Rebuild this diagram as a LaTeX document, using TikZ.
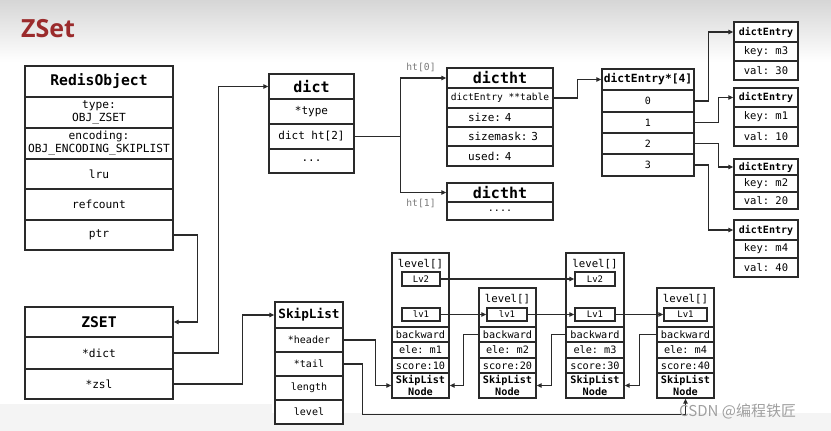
\documentclass[tikz,border=0pt]{standalone}
\usepackage{fontspec}
\setmonofont{DejaVu Sans Mono}
\newfontfamily\titlefont{Open Sans}
\newfontfamily\cjkfont{Noto Sans CJK SC}
\usetikzlibrary{arrows.meta,calc}
\definecolor{linec}{HTML}{2A2A2A}
\definecolor{titlered}{HTML}{9B2B2C}
\definecolor{labgray}{HTML}{7A7A7A}
\definecolor{topgray}{HTML}{D6D6D6}
\definecolor{footgray}{HTML}{F4F4F4}
\newcommand\mfn[1]{\ttfamily\mdseries\fontsize{#1}{13}\selectfont}
\newcommand\mfb[1]{\ttfamily\bfseries\fontsize{#1}{12}\selectfont}
\newcommand\cellbox[7][]{\node[cellbase,minimum width={(#5-#3)*1pt},minimum height={(#6-#4)*1pt},#1] (#2) at ({(#3+#5)/2},{(#4+#6)/2}) {#7};}
\newcommand\skipnode[6]{%
  \cellbox{#1lvl}{#2}{#4}{#3}{327}{}
  \node[font=\mfn{10.7}, inner sep=0] (#1lt) at ({(#2+#3)/2},{#4+11}) {level[]};
  \cellbox[font=\mfn{10.2}]{#1bw}{#2}{327}{#3}{342}{backward}
  \cellbox[font=\mfn{10.2}]{#1ele}{#2}{342}{#3}{358}{ele: #5}
  \cellbox[font=\mfn{10.2}]{#1sc}{#2}{358}{#3}{373}{score:#6}
  \cellbox[font=\mfb{10.2}]{#1node}{#2}{373}{#3}{398}{SkipList\\Node}
}
\tikzset{
  cellbase/.style={draw=linec, line width=1.35pt, fill=white, inner sep=0pt, align=center, font=\mfn{11.2}},
  hdr/.style={font=\mfb{14.7}},
  leftrow/.style={align=left, text width=64pt, font=\mfn{11}},
  lvbox/.style={font=\mfn{9}},
  conn/.style={draw=linec, line width=1.2pt, -{Triangle[length=5pt,width=4.5pt]}},
  lab/.style={font=\mfn{9.7}, text=labgray, inner sep=0},
}
\begin{document}
\begin{tikzpicture}[x=1pt,y=-1pt]
\useasboundingbox (0,0) rectangle (831,431);
% background
\shade[top color=topgray, bottom color=white] (0,0) rectangle (831,62);
\fill[footgray] (0,404) rectangle (272,431);
\fill[footgray] (272,413) rectangle (831,431);
% title
\node[anchor=west, font=\titlefont\bfseries\fontsize{25}{25}\selectfont, text=titlered, inner sep=0] (title) at (21,29) {ZSet};
% RedisObject
\cellbox[hdr]{ro}{25}{66}{173}{97}{RedisObject}
\cellbox{rotype}{25}{97}{173}{128}{type:\\OBJ\_ZSET}
\cellbox{roenc}{25}{128}{173}{159}{encoding:\\OBJ\_ENCODING\_SKIPLIST}
\cellbox{rolru}{25}{159}{173}{189}{lru}
\cellbox{roref}{25}{189}{173}{220}{refcount}
\cellbox{roptr}{25}{220}{173}{250}{ptr}
% ZSET
\cellbox[hdr]{zset}{25}{307}{173}{337}{ZSET}
\cellbox{zdict}{25}{337}{173}{369}{*dict}
\cellbox{zzsl}{25}{369}{173}{399}{*zsl}
% dict
\cellbox[font=\mfb{15}]{dict}{269}{74}{354}{99}{dict}
\cellbox[font=\mfn{11}]{dtype}{269}{99}{354}{124}{*type}
\cellbox[font=\mfn{11}]{dht}{269}{124}{354}{149}{dict ht[2]}
\cellbox[font=\mfn{11}]{ddots}{269}{149}{354}{173}{...}
% dictht 0
\cellbox[font=\mfb{15}]{dt0}{447}{68}{553}{88}{dictht}
\cellbox[font=\mfn{9.6}]{dtab}{447}{88}{553}{108}{dictEntry **table}
\cellbox[leftrow]{dsize}{447}{108}{553}{127}{size:~4}
\cellbox[leftrow]{dmask}{447}{127}{553}{146}{sizemask:~3}
\cellbox[leftrow]{dused}{447}{146}{553}{166}{used:~4}
% dictht 1
\cellbox[font=\mfb{15}]{dt1}{447}{183}{553}{202}{dictht}
\cellbox[font=\mfn{10}]{dt1d}{447}{202}{553}{220}{....}
\node[lab] (ht0) at (421,67) {ht[0]};
\node[lab] (ht1) at (421,203) {ht[1]};
% dictEntry*[4]
\cellbox[font=\mfb{11.3}]{dea}{602}{69}{694}{90}{dictEntry*[4]}
\cellbox[font=\mfn{10}]{r0}{602}{90}{694}{112}{0}
\cellbox[font=\mfn{10}]{r1}{602}{112}{694}{133}{1}
\cellbox[font=\mfn{10}]{r2}{602}{133}{694}{154}{2}
\cellbox[font=\mfn{10}]{r3}{602}{154}{694}{176}{3}
% dictEntry boxes
\cellbox[font=\mfb{10}]{dea1}{734}{22}{798}{42}{dictEntry}
\cellbox[font=\mfn{10.5}]{dea1k}{734}{42}{798}{61}{key: m3}
\cellbox[font=\mfn{10.5}]{dea1v}{734}{61}{798}{80}{val: 30}
\cellbox[font=\mfb{10}]{dea2}{734}{88}{798}{107}{dictEntry}
\cellbox[font=\mfn{10.5}]{dea2k}{734}{107}{798}{127}{key: m1}
\cellbox[font=\mfn{10.5}]{dea2v}{734}{127}{798}{146}{val: 10}
\cellbox[font=\mfb{10}]{dea3}{734}{159}{798}{175}{dictEntry}
\cellbox[font=\mfn{10.5}]{dea3k}{734}{175}{798}{192}{key: m2}
\cellbox[font=\mfn{10.5}]{dea3v}{734}{192}{798}{209}{val: 20}
\cellbox[font=\mfb{10}]{dea4}{734}{220}{798}{240}{dictEntry}
\cellbox[font=\mfn{10.5}]{dea4k}{734}{240}{798}{258}{key: m4}
\cellbox[font=\mfn{10.5}]{dea4v}{734}{258}{798}{277}{val: 40}
% SkipList
\cellbox[font=\mfb{12.7}]{sl}{275}{302}{343}{328}{SkipList}
\cellbox[font=\mfn{10}]{slh}{275}{328}{343}{352}{*header}
\cellbox[font=\mfn{10}]{slt}{275}{352}{343}{376}{*tail}
\cellbox[font=\mfn{10}]{sllen}{275}{376}{343}{400}{length}
\cellbox[font=\mfn{10}]{sllev}{275}{400}{343}{424}{level}
% skip list nodes
\skipnode{na}{392}{449}{253}{m1}{10}
\skipnode{nb}{479}{536}{288}{m2}{20}
\skipnode{nc}{566}{624}{253}{m3}{30}
\skipnode{nd}{657}{714}{288}{m4}{40}
\cellbox[lvbox]{nalv2}{402}{272}{440}{286}{Lv2}
\cellbox[lvbox]{nalv1}{402}{308}{440}{321}{lv1}
\cellbox[lvbox]{nblv1}{487}{308}{527}{321}{lv1}
\cellbox[lvbox]{nclv2}{575}{272}{615}{286}{Lv2}
\cellbox[lvbox]{nclv1}{575}{308}{615}{321}{Lv1}
\cellbox[lvbox]{ndlv1}{664}{308}{707}{321}{Lv1}
% connectors
\draw[conn] (roptr.east) -- ++(24,0) |- (zset.east);
\draw[conn] (zdict.east) -- ++(45,0) |- (dict.west);
\draw[conn] (zzsl.east) -- ++(69,0) |- (sl.west);
\draw[draw=linec, line width=1.2pt] (dht.east) -- ++(46,0) coordinate (split);
\draw[conn] (split) |- (dt0.west);
\draw[conn] (split) |- (dt1.west);
\draw[conn] (dtab.east) -- ++(24,0) |- (dea.west);
\draw[conn] (r0.east) -- ++(14,0) |- (dea1.west);
\draw[conn] (r1.east) -- ++(24,0) |- (dea2.west);
\draw[conn] (r2.east) -- ++(24,0) |- (dea3.west);
\draw[conn] (r3.east) -- ++(14,0) |- (dea4.west);
\draw[conn] (slh.east) -- ++(32,0) |- (nanode.west);
\draw[conn] (slt.east) -- ++(19,0) |- ($(ndnode.south)+(0,16)$) -- (ndnode.south);
\draw[conn] (nalv2.east) -- (nclv2.west);
\draw[conn] (nalv1.east) -- (nblv1.west);
\draw[conn] (nblv1.east) -- (nclv1.west);
\draw[conn] (nclv1.east) -- (ndlv1.west);
\draw[conn] (nbbw.west) -- ++(-15,0) |- (nanode.east);
\draw[conn] (ncbw.west) -- ++(-14,0) |- (nbnode.east);
\draw[conn] (ndbw.west) -- ++(-17,0) |- (ncnode.east);
% watermark
\node[anchor=west, font=\cjkfont\fontsize{15}{15}\selectfont, text=gray!75, inner sep=0] (wm) at (679,411) {CSDN @编程铁匠};
\end{tikzpicture}
\end{document}
